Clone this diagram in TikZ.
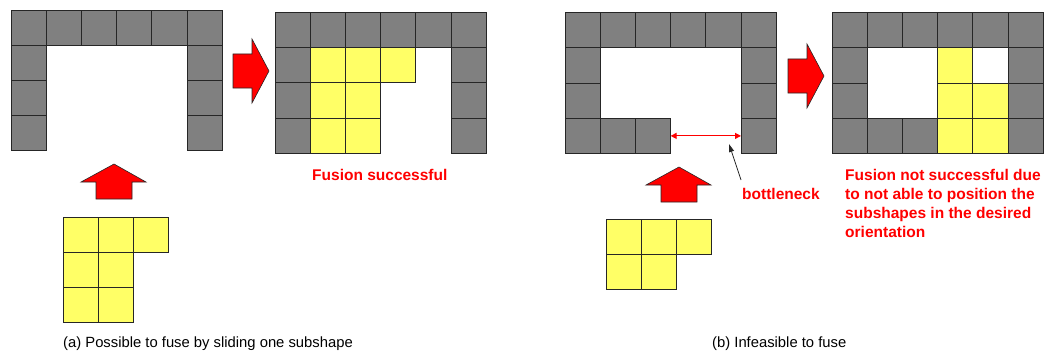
\documentclass[tikz,border=0pt]{standalone}
\usepackage{fontspec}
\setmainfont{Liberation Sans}
\usetikzlibrary{arrows.meta}
\definecolor{wallgray}{HTML}{808080}
\definecolor{subyellow}{HTML}{FFFF66}
\definecolor{notered}{HTML}{FF0000}
\newcommand\cs{35.2}
% place a set of unit cells: style, name prefix, list of row/column pairs
\newcommand\placecells[3]{%
  \edef\celllist{#3}%
  \foreach \r/\c in \celllist {\node[#1] (#2-\r-\c) at (\c*\cs,\r*\cs) {};}}
\newcommand\openwall{0/0,0/1,0/2,0/3,0/4,0/5,1/0,2/0,3/0,1/5,2/5,3/5}
\newcommand\closedwall{0/0,0/1,0/2,0/3,0/4,0/5,1/0,2/0,3/0,3/1,3/2,1/5,2/5,3/5}
\begin{document}
\begin{tikzpicture}[x=1pt,y=-1pt,
  cell/.style={draw=black!85,line width=0.9pt,minimum size=\cs pt,inner sep=0pt,
    outer sep=0pt,anchor=north west},
  wall/.style={cell,fill=wallgray},
  sub/.style={cell,fill=subyellow},
  blockarrow/.style={draw=black!85,line width=0.6pt,fill=notered,line join=miter},
  note/.style={text=notered,font=\bfseries\fontsize{15.5}{18.8}\selectfont,
    align=left,inner sep=0pt},
  caption/.style={font=\fontsize{14.8}{18}\selectfont,inner sep=0pt,anchor=base west}]
\useasboundingbox (0,0) rectangle (1044,353);

% (a) open frame and the L-shaped subshape below it
\begin{scope}[shift={(11,10)}]
  \placecells{wall}{a}{\openwall}
\end{scope}
\begin{scope}[shift={(63,217)}]
  \placecells{sub}{pa}{0/0,0/1,0/2,1/0,1/1,2/0,2/1}
\end{scope}
\begin{scope}[shift={(96,199)}]
  \draw[blockarrow] (0,0) -- (36,0) -- (36,-17) -- (50,-17) -- (18,-35)
    -- (-15,-17) -- (0,-17) -- cycle;
\end{scope}
\begin{scope}[shift={(233,54)}]
  \draw[blockarrow] (0,0) -- (19,0) -- (19,-15) -- (36,17) -- (19,49)
    -- (19,34) -- (0,34) -- cycle;
\end{scope}

% (a) result: subshape slid into the frame
\begin{scope}[shift={(275,12.5)}]
  \placecells{wall}{b}{\openwall}
  \placecells{sub}{b}{1/1,1/2,1/3,2/1,2/2,3/1,3/2}
\end{scope}
\node[note,anchor=base west] (ok) at (312,180) {Fusion successful};

% (b) frame with a narrow opening
\begin{scope}[shift={(565,12.7)}]
  \placecells{wall}{c}{\closedwall}
\end{scope}
\draw[notered,line width=1.1pt,{Triangle[length=6pt,width=6pt]}-{Triangle[length=6pt,width=6pt]}]
  (c-3-2.east) -- (c-3-5.west);
\node[note,anchor=base west] (bn) at (742,199) {bottleneck};
\coordinate (bntail) at (741,180);
\coordinate (bntip) at (729,144);
\draw[black!85,line width=0.8pt,-{Triangle[length=8pt,width=5pt]}] (bntail) -- (bntip);
\begin{scope}[shift={(606,219)}]
  \placecells{sub}{pb}{0/0,0/1,0/2,1/0,1/1}
\end{scope}
\begin{scope}[shift={(661,202)}]
  \draw[blockarrow] (0,0) -- (36,0) -- (36,-17) -- (50,-17) -- (18,-35)
    -- (-15,-17) -- (0,-17) -- cycle;
\end{scope}
\begin{scope}[shift={(788,59)}]
  \draw[blockarrow] (0,0) -- (19,0) -- (19,-15) -- (36,17) -- (19,49)
    -- (19,34) -- (0,34) -- cycle;
\end{scope}

% (b) result: subshape cannot take the desired orientation
\begin{scope}[shift={(832,12.7)}]
  \placecells{wall}{d}{\closedwall}
  \placecells{sub}{d}{1/3,2/3,3/3,2/4,3/4}
\end{scope}
\node[note,anchor=north west] (fail) at (845,169.5)
  {Fusion not successful due\\to not able to position the\\subshapes in the desired\\orientation};

% captions
\node[caption] (capa) at (63,347.5) {(a) Possible to fuse by sliding one subshape};
\node[caption] (capb) at (712,347.5) {(b) Infeasible to fuse};
\end{tikzpicture}
\end{document}
